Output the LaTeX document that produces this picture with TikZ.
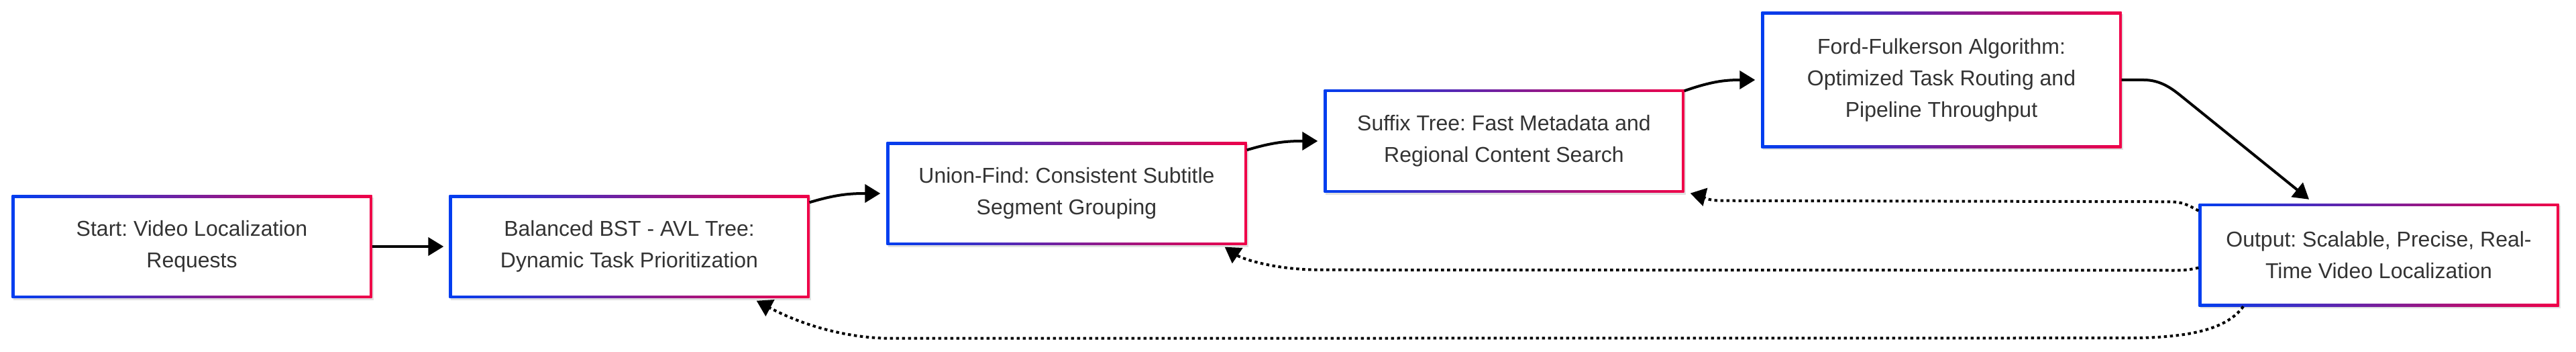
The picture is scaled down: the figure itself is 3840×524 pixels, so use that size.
\documentclass[tikz,border=0pt]{standalone}
\usepackage{fontspec}
\setmainfont{Liberation Sans}
\usetikzlibrary{arrows.meta,shadows}
\frenchspacing

\definecolor{edgeblue}{RGB}{0,62,240}
\definecolor{edgered}{RGB}{240,0,72}
\definecolor{txtgray}{RGB}{51,51,51}

\newcommand{\boxfont}{\fontsize{32}{47}\selectfont}

\tikzset{
  algobox/.style={rectangle, minimum width=537pt, minimum height=153pt,
    inner sep=0pt, align=center, text=txtgray, font=\boxfont, fill=white,
    drop shadow={shadow xshift=2pt, shadow yshift=-3pt, fill=black, opacity=0.12},
    path picture={
      \shade[left color=edgeblue, right color=edgered]
        (path picture bounding box.south west) rectangle (path picture bounding box.north east);
      \fill[white]
        ([shift={(4pt,4pt)}]path picture bounding box.south west) rectangle
        ([shift={(-4pt,-4pt)}]path picture bounding box.north east);
    }},
  tallbox/.style={algobox, minimum height=202pt},
  flow/.style={-{Triangle[length=23pt,width=27pt]}, line width=4pt, black},
  feedback/.style={flow, dash pattern=on 4.5pt off 4.5pt},
}

\begin{document}
\begin{tikzpicture}[x=1pt,y=-1pt]
    \useasboundingbox (0,0) rectangle (3840,524);

    % Pipeline stages
    \node[algobox] (start) at (286,367) {Start: Video Localization\\Requests};
    \node[algobox] (bst) at (938,367) {Balanced BST - AVL Tree:\\Dynamic Task Prioritization};
    \node[algobox] (uf) at (1590,288) {Union-Find: Consistent Subtitle\\Segment Grouping};
    \node[algobox] (suffix) at (2242,210) {Suffix Tree: Fast Metadata and\\Regional Content Search};
    \node[tallbox] (ford) at (2894,119) {Ford-Fulkerson Algorithm:\\Optimized Task Routing and\\Pipeline Throughput};
    \node[algobox] (out) at (3546,379.5) {Output: Scalable, Precise, Real-\\Time Video Localization};

    % Forward flow
    \draw[flow] (start.east) -- ([xshift=-8pt]bst.west);
    \draw[flow] ([yshift=-11pt]bst.north east) .. controls +(40,-12) and +(-45,0) .. ([xshift=-9pt]uf.west);
    \draw[flow] ([yshift=-12pt]uf.north east) .. controls +(40,-12) and +(-45,0) .. ([xshift=-9pt]suffix.west);
    \draw[flow] ([yshift=-2pt]suffix.north east) .. controls +(40,-14) and +(-45,0) .. ([xshift=-9pt]ford.west);
    \draw[flow] (ford.east) -- ++(33,0) .. controls +(22,0) and +(-14,-11) .. ++(52,21)
        -- ([xshift=-104pt,yshift=6pt]out.north);

    % Feedback loops (dotted)
    \draw[feedback] ([yshift=-11pt]out.north west) .. controls +(-18,-10) and +(20,0) .. ++(-45,-13.5)
        -- ([xshift=55pt,yshift=-12pt]suffix.south east)
        .. controls +(-22,0) and +(16,4) .. ([xshift=9pt,yshift=-1pt]suffix.south east);
    \draw[feedback] ([yshift=-19pt]out.west) .. controls +(-12,3) and +(15,0) .. ++(-37,4)
        -- ([xshift=110pt,yshift=-37pt]uf.south east)
        .. controls +(-70,0) and +(25,17) .. ([xshift=-33pt,yshift=-3pt]uf.south east);
    \draw[feedback] ([xshift=-202pt]out.south) .. controls +(-25,35) and +(90,0) .. ++(-174,47)
        -- ([xshift=123pt,yshift=-60pt]bst.south east)
        .. controls +(-75,0) and +(60,32) .. ([xshift=-79pt,yshift=-4pt]bst.south east);
\end{tikzpicture}
\end{document}
